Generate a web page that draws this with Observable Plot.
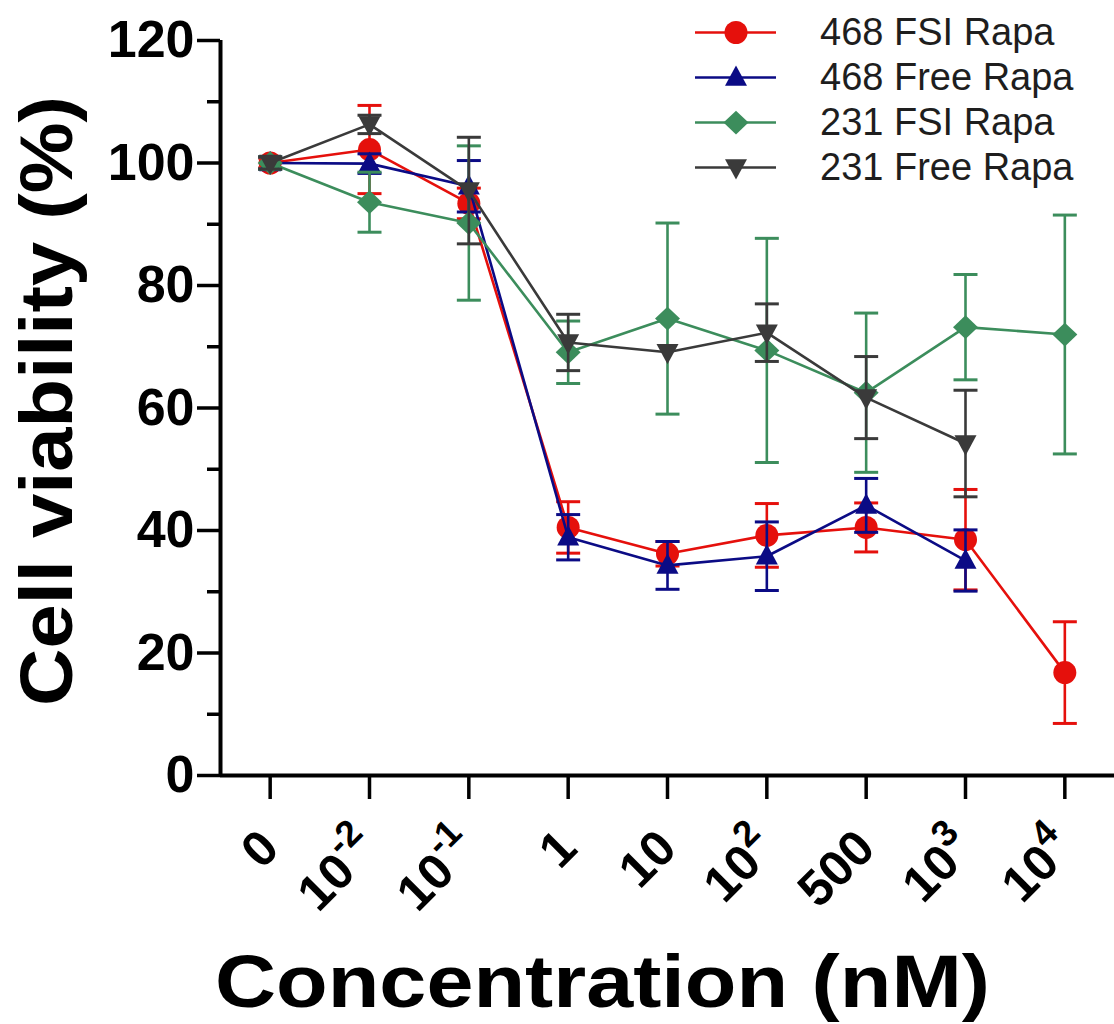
<!DOCTYPE html>
<html><head><meta charset="utf-8">
<script src="https://cdn.jsdelivr.net/npm/d3@7"></script>
<script src="https://cdn.jsdelivr.net/npm/@observablehq/plot@0.6"></script>
<style>
body{margin:0;background:#fff;}
#wrap{position:relative;width:1114px;height:1024px;}
#legend{position:absolute;left:690px;top:10px;font-family:"Liberation Sans",Arial,sans-serif;font-size:38px;color:#1e1e1e;}
#legend .row{display:flex;align-items:center;height:45px;}
#legend svg{margin-right:38px;}
</style></head><body><div id="wrap"><div id="legend"></div></div>
<script>
// ---------- data ----------
const categories = ["0","10^-2","10^-1","1","10","10^2","500","10^3","10^4"];
const seriesNames = ["468 FSI Rapa","468 Free Rapa","231 FSI Rapa","231 Free Rapa"];
const fsi468Mean  = [100, 102.2, 93.4, 40.5, 36.2, 39.2, 40.5, 38.5, 16.8];
const fsi468Sd    = [0.8, 7.2, 2.5, 4.2, 2.0, 5.2, 4.0, 8.2, 8.3];
const free468Mean = [100, 99.9, 96.2, 38.9, 34.3, 35.8, 44.1, 35.1, null];
const free468Sd   = [1.0, 1.6, 4.2, 3.7, 3.9, 5.6, 4.4, 5.0, null];
const fsi231Mean  = [100, 93.6, 90.2, 69.1, 74.6, 69.4, 62.5, 73.2, 72.0];
const fsi231Sd    = [1.0, 4.9, 12.6, 5.1, 15.6, 18.3, 13.0, 8.6, 19.5];
const free231Mean = [100, 106.3, 95.5, 70.7, 69.1, 72.3, 61.7, 54.2, null];
const free231Sd   = [1.0, 1.5, 8.7, 4.6, null, 4.7, 6.7, 8.7, null];
const yMajorTicks = [0, 20, 40, 60, 80, 100, 120];
const yMinorTicks = [10, 30, 50, 70, 90, 110];
const xLabel = "Concentration (nM)";
const yLabel = "Cell viability (%)";

// ---------- styles ----------
const colors = ["#e5100c", "#0b0b85", "#3c8d5c", "#3a3a3a"];
const means = [fsi468Mean, free468Mean, fsi231Mean, free231Mean];
const sds = [fsi468Sd, free468Sd, fsi231Sd, free231Sd];

const rad = s => Math.sqrt(s / Math.PI);
const symCircle = {draw(c, s){ const r = rad(s); c.moveTo(r, 0); c.arc(0, 0, r, 0, 2*Math.PI); c.closePath(); }};
const symTriUp = {draw(c, s){ const r = rad(s); c.moveTo(0, -1.1*r); c.lineTo(r, 0.75*r); c.lineTo(-r, 0.75*r); c.closePath(); }};
const symDiamond = {draw(c, s){ const r = rad(s); c.moveTo(0, -0.95*r); c.lineTo(r, 0); c.lineTo(0, 0.95*r); c.lineTo(-r, 0); c.closePath(); }};
const symTriDown = {draw(c, s){ const r = rad(s); c.moveTo(0, 1.1*r); c.lineTo(r, -0.75*r); c.lineTo(-r, -0.75*r); c.closePath(); }};
const symCap = {draw(c, s){ const r = rad(s); c.moveTo(-r, 0); c.lineTo(r, 0); }};
const symbols = [symCircle, symTriUp, symDiamond, symTriDown];
const symR = [11.5, 11, 12.5, 11];

const font = '"Liberation Sans", Arial, Helvetica, sans-serif';

// ---------- rows ----------
const rows = [];
seriesNames.forEach((name, k) => {
  means[k].forEach((m, i) => {
    if (m == null) return;
    const sd = sds[k][i];
    rows.push({series: name, k, i, mean: m, sd, hasErr: sd != null,
      lo: sd == null ? m : m - sd, hi: sd == null ? m : m + sd});
  });
});

const seriesMarks = [];
seriesNames.forEach((name, k) => {
  const d = rows.filter(r => r.k === k);
  const e = d.filter(r => r.hasErr);
  seriesMarks.push(
    Plot.ruleX(e, {x: "i", y1: "lo", y2: "hi", stroke: colors[k], strokeWidth: 2.6}),
    Plot.dot(e, {x: "i", y: "hi", symbol: symCap, r: 12, fill: "none", stroke: colors[k], strokeWidth: 3}),
    Plot.dot(e, {x: "i", y: "lo", symbol: symCap, r: 12, fill: "none", stroke: colors[k], strokeWidth: 3}),
    Plot.line(d, {x: "i", y: "mean", stroke: colors[k], strokeWidth: 2.6}),
    Plot.dot(d, {x: "i", y: "mean", symbol: symbols[k], r: symR[k], fill: colors[k], stroke: "none"})
  );
});

const chart = Plot.plot({
  width: 1114,
  height: 1024,
  marginLeft: 220,
  marginRight: 0,
  marginTop: 40,
  marginBottom: 249,
  style: {fontFamily: font, background: "#fff", overflow: "visible"},
  x: {type: "linear", domain: [-0.5, 8.5], axis: null, label: null},
  y: {domain: [0, 120], axis: null, label: null},
  marks: [
    Plot.axisY({ticks: yMajorTicks, tickSize: 23, tickPadding: 3, fontSize: 52, fontWeight: "bold", strokeWidth: 3.5, label: null}),
    Plot.axisY({ticks: yMinorTicks, tickSize: 13, tickFormat: () => "", strokeWidth: 3.5, label: null}),
    Plot.axisX({ticks: d3.range(categories.length), tickSize: 24, tickPadding: 40, tickRotate: -45,
      tickFormat: i => categories[i], fontSize: 50, fontWeight: "bold", strokeWidth: 3.5, label: null}),
    Plot.ruleY([0], {strokeWidth: 4}),
    Plot.ruleX([-0.5], {y1: 0, y2: 120, strokeWidth: 4}),
    ...seriesMarks,
    Plot.text([yLabel], {text: d => d, frameAnchor: "left", dx: -172, dy: -7, rotate: -90, fontSize: 74, fontWeight: "bold", textAnchor: "middle", lineAnchor: "middle"}),
    Plot.text([xLabel], {text: d => d, frameAnchor: "bottom", dx: -65, dy: 208, fontSize: 74, fontWeight: "bold", textAnchor: "middle", lineAnchor: "middle"})
  ]
});

// superscripts in x tick labels
d3.select(chart).selectAll('g[aria-label="x-axis tick label"] text').each(function() {
  const t = this.textContent;
  if (t.includes("^")) {
    const [base, exp] = t.split("^");
    const sel = d3.select(this);
    sel.text(null);
    sel.append("tspan").text(base);
    sel.append("tspan").attr("dy", "-0.62em").attr("font-size", "0.74em").text(exp);
  }
});
// the reference's titles are set a little wider than the installed bold face
d3.select(chart).selectAll("text").each(function() {
  if (this.textContent === xLabel) d3.select(this).attr("textLength", 775).attr("lengthAdjust", "spacingAndGlyphs");
  if (this.textContent === yLabel) d3.select(this).attr("textLength", 610).attr("lengthAdjust", "spacingAndGlyphs");
});

const wrap = document.getElementById("wrap");
wrap.insertBefore(chart, wrap.firstChild);

// legend
const legend = d3.select("#legend");
seriesNames.forEach((name, k) => {
  const row = legend.append("div").attr("class", "row");
  const svg = row.append("svg").attr("width", 92).attr("height", 45);
  svg.append("line").attr("x1", 5).attr("x2", 86).attr("y1", 22.5).attr("y2", 22.5)
    .attr("stroke", colors[k]).attr("stroke-width", 2.6);
  const p = d3.path();
  symbols[k].draw(p, symR[k] * symR[k] * Math.PI);
  svg.append("path").attr("d", p.toString()).attr("transform", "translate(46,22.5)").attr("fill", colors[k]);
  row.append("span").text(name);
});
</script>
</body></html>
